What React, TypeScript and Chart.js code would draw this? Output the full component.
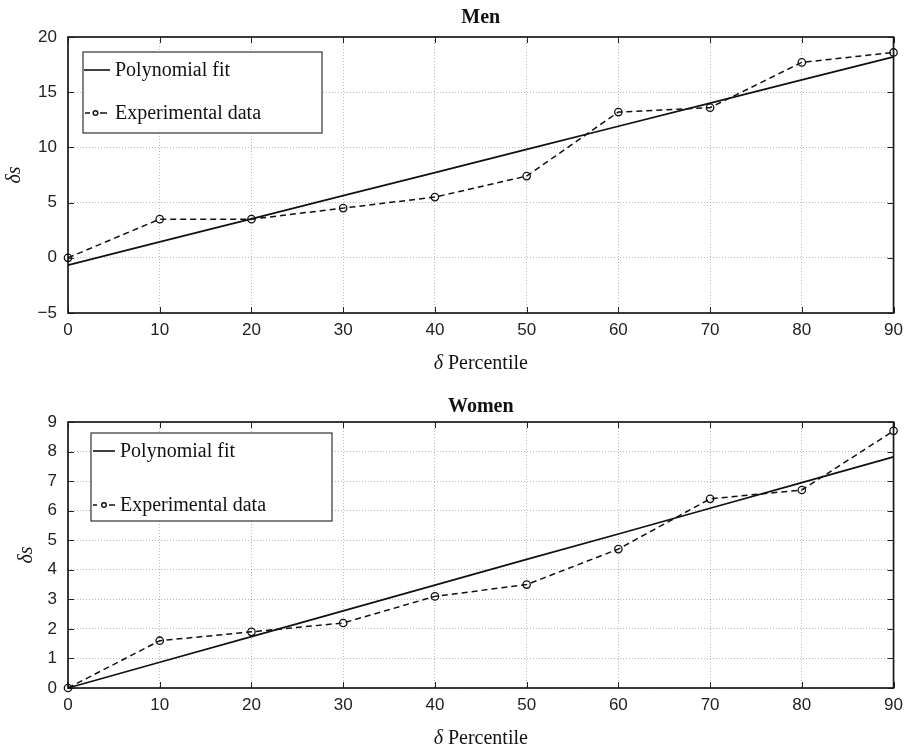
import React, { useEffect, useRef } from "react";
import { Chart, registerables } from "chart.js";
Chart.register(...registerables);

// ---- data ----
const percentiles = [0, 10, 20, 30, 40, 50, 60, 70, 80, 90];
const menExperimental = [0, 3.5, 3.5, 4.5, 5.5, 7.4, 13.2, 13.6, 17.7, 18.6];
const menFit = [-0.66, 1.44, 3.53, 5.63, 7.72, 9.82, 11.92, 14.01, 16.11, 18.2];
const womenExperimental = [0, 1.6, 1.9, 2.2, 3.1, 3.5, 4.7, 6.4, 6.7, 8.7];
const womenFit = [0, 0.87, 1.74, 2.61, 3.48, 4.35, 5.21, 6.08, 6.95, 7.82];
const xTicks = [0, 10, 20, 30, 40, 50, 60, 70, 80, 90];
const menYTicks = [-5, 0, 5, 10, 15, 20];
const womenYTicks = [0, 1, 2, 3, 4, 5, 6, 7, 8, 9];
const seriesNames = ["Polynomial fit", "Experimental data"];
const titles = ["Men", "Women"];
const xAxisLabel = "Percentile";
const xAxisSymbol = "δ";
const yAxisLabel = "δs";

const SANS = "'Liberation Sans', Arial, sans-serif";
const SERIF = "'Liberation Serif', 'Times New Roman', serif";

type LegendCfg = {
  dx: number; dy: number; w: number; h: number; row1: number; row2: number;
  lineA: number; lineB: number; dashA: [number, number]; circ: number; dashB: [number, number]; textX: number;
};

type PanelCfg = {
  title: string;
  yTicks: number[];
  fit: number[];
  exp: number[];
  padTop: number;
  titleY: number;
  yLabelX: number;
  legend: LegendCfg;
};

const W = 910;
const H = 375;

const decorPlugin = {
  id: "decor",
  beforeDatasetsDraw(chart: any) {
    const ctx = chart.ctx;
    const ca = chart.chartArea;
    const xs = chart.scales.x;
    const ys = chart.scales.y;
    ctx.save();
    ctx.strokeStyle = "#222";
    ctx.lineWidth = 1;
    ctx.setLineDash([]);
    const tl = 6;
    ctx.beginPath();
    xs.ticks.forEach((t: any) => {
      const px = Math.round(xs.getPixelForValue(t.value)) + 0.5;
      ctx.moveTo(px, ca.bottom);
      ctx.lineTo(px, ca.bottom - tl);
      ctx.moveTo(px, ca.top);
      ctx.lineTo(px, ca.top + tl);
    });
    ys.ticks.forEach((t: any) => {
      const py = Math.round(ys.getPixelForValue(t.value)) + 0.5;
      ctx.moveTo(ca.left, py);
      ctx.lineTo(ca.left + tl, py);
      ctx.moveTo(ca.right, py);
      ctx.lineTo(ca.right - tl, py);
    });
    ctx.stroke();
    ctx.lineWidth = 1.7;
    ctx.strokeStyle = "#1a1a1a";
    ctx.strokeRect(ca.left, ca.top, ca.right - ca.left, ca.bottom - ca.top);
    ctx.restore();
  },
  afterDatasetsDraw(chart: any, _args: any, opts: any) {
    const ctx = chart.ctx;
    const ca = chart.chartArea;
    const lg: LegendCfg = opts.legend;
    const bx = ca.left + lg.dx;
    const by = ca.top + lg.dy;
    ctx.save();
    ctx.fillStyle = "#fff";
    ctx.fillRect(bx, by, lg.w, lg.h);
    ctx.strokeStyle = "#333";
    ctx.lineWidth = 1.2;
    ctx.strokeRect(bx, by, lg.w, lg.h);
    const r1 = by + lg.row1;
    const r2 = by + lg.row2;
    ctx.strokeStyle = "#111";
    ctx.lineWidth = 1.6;
    ctx.beginPath();
    ctx.moveTo(bx + lg.lineA, r1);
    ctx.lineTo(bx + lg.lineB, r1);
    ctx.stroke();
    ctx.lineWidth = 1.4;
    ctx.beginPath();
    ctx.moveTo(bx + lg.dashA[0], r2);
    ctx.lineTo(bx + lg.dashA[1], r2);
    ctx.moveTo(bx + lg.dashB[0], r2);
    ctx.lineTo(bx + lg.dashB[1], r2);
    ctx.stroke();
    ctx.beginPath();
    ctx.arc(bx + lg.circ, r2, 2.3, 0, Math.PI * 2);
    ctx.stroke();
    ctx.fillStyle = "#111";
    ctx.font = `20px ${SERIF}`;
    ctx.textBaseline = "middle";
    ctx.textAlign = "left";
    ctx.fillText(seriesNames[0], bx + lg.textX, r1 + 1);
    ctx.fillText(seriesNames[1], bx + lg.textX, r2 + 1);
    ctx.restore();
  },
  afterDraw(chart: any, _args: any, opts: any) {
    const ctx = chart.ctx;
    const ca = chart.chartArea;
    const cx = (ca.left + ca.right) / 2;
    ctx.save();
    ctx.fillStyle = "#111";
    ctx.textBaseline = "middle";
    ctx.font = `bold 20px ${SERIF}`;
    ctx.textAlign = "center";
    ctx.fillText(opts.title, cx, opts.titleY);
    ctx.font = `italic 20px ${SERIF}`;
    const w1 = ctx.measureText(xAxisSymbol + " ").width;
    ctx.font = `20px ${SERIF}`;
    const w2 = ctx.measureText(xAxisLabel).width;
    const startX = cx - (w1 + w2) / 2;
    const ly = ca.bottom + 51;
    ctx.textAlign = "left";
    ctx.font = `italic 20px ${SERIF}`;
    ctx.fillText(xAxisSymbol + " ", startX, ly);
    ctx.font = `20px ${SERIF}`;
    ctx.fillText(xAxisLabel, startX + w1, ly);
    ctx.translate(opts.yLabelX, (ca.top + ca.bottom) / 2);
    ctx.rotate(-Math.PI / 2);
    ctx.textAlign = "center";
    ctx.font = `italic 20px ${SERIF}`;
    ctx.fillText(yAxisLabel, 0, 0);
    ctx.restore();
  },
};

function Panel({ cfg, top }: { cfg: PanelCfg; top: number }) {
  const ref = useRef<HTMLCanvasElement | null>(null);
  useEffect(() => {
    if (!ref.current) return;
    const yMin = cfg.yTicks[0];
    const yMax = cfg.yTicks[cfg.yTicks.length - 1];
    const chart = new Chart(ref.current, {
      type: "line",
      data: {
        datasets: [
          {
            label: seriesNames[0],
            data: percentiles.map((p, i) => ({ x: p, y: cfg.fit[i] })),
            borderColor: "#111",
            borderWidth: 1.7,
            pointRadius: 0,
            tension: 0,
            fill: false,
            clip: 10,
          },
          {
            label: seriesNames[1],
            data: percentiles.map((p, i) => ({ x: p, y: cfg.exp[i] })),
            borderColor: "#111",
            borderWidth: 1.5,
            borderDash: [6, 4],
            pointRadius: 3.7,
            pointBorderWidth: 1.3,
            pointBorderColor: "#111",
            pointBackgroundColor: "rgba(0,0,0,0)",
            tension: 0,
            fill: false,
            clip: 10,
          },
        ],
      },
      options: {
        animation: false,
        responsive: false,
        layout: { padding: { left: 18, right: 13, top: cfg.padTop, bottom: 32 } },
        plugins: {
          legend: { display: false },
          title: { display: false },
          tooltip: { enabled: false },
          decor: { title: cfg.title, titleY: cfg.titleY, yLabelX: cfg.yLabelX, legend: cfg.legend },
        } as any,
        scales: {
          x: {
            type: "linear",
            min: xTicks[0],
            max: xTicks[xTicks.length - 1],
            afterFit: (s: any) => { s.height = 30; },
            afterBuildTicks: (s: any) => { s.ticks = xTicks.map((v) => ({ value: v })); },
            ticks: {
              padding: 7,
              color: "#222",
              font: { family: SANS, size: 17 },
              maxRotation: 0,
              autoSkip: false,
            },
            grid: { color: "rgba(0,0,0,0.27)", lineWidth: 1, drawTicks: false },
            border: { display: false, dash: [1, 2] },
          },
          y: {
            type: "linear",
            min: yMin,
            max: yMax,
            afterFit: (s: any) => { s.width = 50; },
            afterBuildTicks: (s: any) => { s.ticks = cfg.yTicks.map((v) => ({ value: v })); },
            ticks: {
              padding: 11,
              color: "#222",
              font: { family: SANS, size: 17 },
              autoSkip: false,
              callback: (v: any) => String(v).replace("-", "\u2212"),
            },
            grid: { color: "rgba(0,0,0,0.27)", lineWidth: 1, drawTicks: false },
            border: { display: false, dash: [1, 2] },
          },
        },
      },
      plugins: [decorPlugin],
    } as any);
    return () => chart.destroy();
  }, [cfg]);
  return (
    <canvas
      ref={ref}
      width={W}
      height={H}
      style={{ position: "absolute", left: 0, top, width: W, height: H }}
    />
  );
}

const menCfg: PanelCfg = {
  title: titles[0],
  yTicks: menYTicks,
  fit: menFit,
  exp: menExperimental,
  padTop: 37,
  titleY: 18,
  yLabelX: 15,
  legend: { dx: 15, dy: 15, w: 239, h: 81, row1: 18, row2: 61, lineA: 1, lineB: 27, dashA: [2, 7], circ: 12.5, dashB: [17, 24], textX: 32 },
};

const womenCfg: PanelCfg = {
  title: titles[1],
  yTicks: womenYTicks,
  fit: womenFit,
  exp: womenExperimental,
  padTop: 47,
  titleY: 32,
  yLabelX: 27,
  legend: { dx: 23, dy: 11, w: 241, h: 88, row1: 18, row2: 72, lineA: 2, lineB: 24, dashA: [2, 6], circ: 13, dashB: [18, 24], textX: 29 },
};

export default function App() {
  return (
    <div style={{ position: "absolute", left: 0, top: 0, width: W, height: 750, background: "#fff" }}>
      <Panel cfg={menCfg} top={0} />
      <Panel cfg={womenCfg} top={375} />
    </div>
  );
}
